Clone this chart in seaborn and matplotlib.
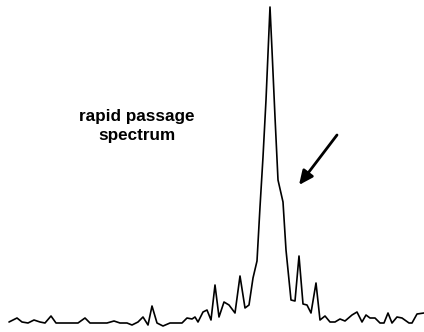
import matplotlib
matplotlib.use("Agg")
import matplotlib.pyplot as plt
import seaborn as sns
import pandas as pd

# frequency channel (arbitrary units) and signal intensity (arbitrary units)
freq = [9, 17, 22, 28, 34, 40, 45, 51, 56, 70, 78, 85, 90, 107, 114, 120, 127, 132,
        138, 143, 148, 152, 157, 163, 170, 182, 187, 192, 195, 198, 203, 207, 211,
        215, 219, 224, 229, 235, 240, 245, 249, 253, 257, 260, 263, 266, 270, 272,
        275, 278, 283, 286, 291, 295, 299, 303, 307, 311, 316, 320, 325, 330, 335,
        340, 345, 352, 357, 362, 366, 370, 375, 380, 384, 388, 392, 397, 402, 409,
        412, 417, 424]
intensity = [10, 14, 10, 9, 12, 10, 9, 16, 9, 9, 9, 14, 9, 9, 11, 9, 9, 7,
             10, 15, 7, 26, 9, 6, 9, 9, 14, 13, 15, 10, 20, 22, 12,
             47, 15, 30, 27, 19, 56, 24, 27, 54, 71, 125, 175, 232, 325, 282,
             215, 152, 130, 82, 32, 31, 76, 28, 27, 19, 49, 12, 16, 10, 10,
             13, 11, 17, 20, 10, 17, 14, 14, 9, 9, 19, 9, 15, 14, 9,
             9, 18, 19]

label_text = "rapid passage\nspectrum"

df = pd.DataFrame({"freq": freq, "intensity": intensity})

sns.set_theme(style="white")
plt.rcParams["font.family"] = ["Liberation Sans", "DejaVu Sans"]

fig = plt.figure(figsize=(4.24, 3.32), dpi=100)
ax = fig.add_axes([0, 0, 1, 1])
sns.lineplot(data=df, x="freq", y="intensity", ax=ax, color="black",
             linewidth=1.2, sort=False)
ax.set_xlim(0, 424)
ax.set_ylim(0, 332)
ax.axis("off")

ax.text(137, 206, label_text, ha="center", va="center", fontsize=12.3,
        fontweight="bold", color="black", linespacing=1.4)

ax.annotate("", xy=(299, 147), xytext=(337, 197),
            arrowprops=dict(arrowstyle="-|>,head_length=0.7,head_width=0.32",
                            color="black", lw=2.0, shrinkA=0, shrinkB=0))

fig.savefig("out.png", dpi=100, facecolor="white")
